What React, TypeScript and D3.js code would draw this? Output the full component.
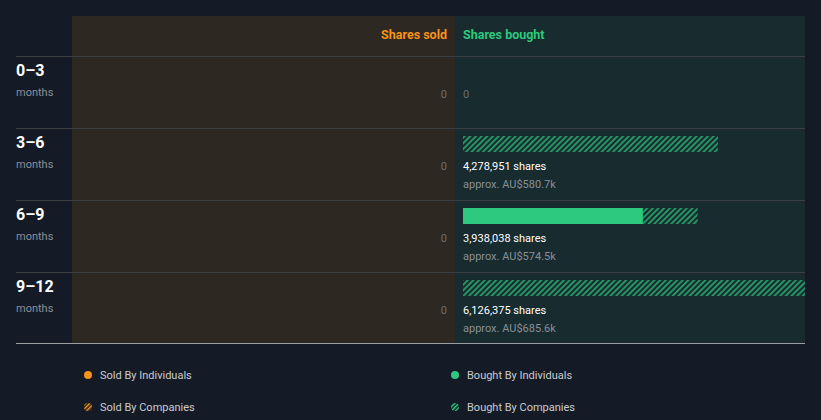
import React from "react";
import * as d3 from "d3";

const periods = ["0–3", "3–6", "6–9", "9–12"];
const soldIndividuals = [0, 0, 0, 0];
const soldCompanies = [0, 0, 0, 0];
const boughtIndividuals = [0, 0, 3020000, 0];
const boughtCompanies = [0, 4278951, 918038, 6126375];
const boughtValues = ["", "AU$580.7k", "AU$574.5k", "AU$685.6k"];
const legendItems = ["Sold By Individuals", "Bought By Individuals", "Sold By Companies", "Bought By Companies"];

const W = 821;
const H = 420;
const BG = "#151b26";
const SOLD_BG = "#2d2822";
const BOUGHT_BG = "#182b2f";
const ORANGE = "#f7931a";
const GREEN = "#2dc97e";
const HATCH_GREEN = "#27a56c";
const FONT = "Roboto, 'Open Sans', sans-serif";

export default function App() {
  const left = 16, right = 805;
  const panelLeft = 72, mid = 455;
  const top = 16, headerH = 40, rowH = 72;
  const bottom = top + headerH + rowH * periods.length - 1;

  const y = d3.scaleBand<number>().domain(d3.range(periods.length)).range([top + headerH, top + headerH + rowH * periods.length]);
  const maxB = d3.max(periods.map((_, i) => boughtIndividuals[i] + boughtCompanies[i])) as number;
  const x = d3.scaleLinear().domain([0, maxB]).range([mid + 8, mid + 8 + 365]);
  const fmt = d3.format(",");

  return (
    <svg width={W} height={H} style={{ position: "absolute", left: 0, top: 0, background: BG }} fontFamily={FONT}>
      <defs>
        <pattern id="hatchG" patternUnits="userSpaceOnUse" width="4" height="4" patternTransform="rotate(45)">
          <rect width="4" height="4" fill={BOUGHT_BG} />
          <rect width="1.7" height="4" fill={HATCH_GREEN} />
        </pattern>
        <pattern id="hatchO" patternUnits="userSpaceOnUse" width="3" height="3" patternTransform="rotate(45)">
          <rect width="3" height="3" fill={BG} />
          <rect width="1.5" height="3" fill={ORANGE} />
        </pattern>
        <pattern id="hatchGL" patternUnits="userSpaceOnUse" width="3" height="3" patternTransform="rotate(45)">
          <rect width="3" height="3" fill={BG} />
          <rect width="1.5" height="3" fill={GREEN} />
        </pattern>
        <clipPath id="boughtClip">
          <rect x={mid} y={top} width={right - mid} height={bottom - top} />
        </clipPath>
      </defs>
      <rect x={0} y={0} width={W} height={H} fill={BG} />
      <rect x={panelLeft} y={top} width={mid - panelLeft} height={bottom - top} fill={SOLD_BG} />
      <rect x={mid} y={top} width={right - mid} height={bottom - top} fill={BOUGHT_BG} />

      <text x={mid - 8} y={top + 23} textAnchor="end" fill={ORANGE} fontSize={12.5} fontWeight={700}>Shares sold</text>
      <text x={mid + 8} y={top + 23} textAnchor="start" fill={GREEN} fontSize={12.5} fontWeight={700}>Shares bought</text>

      {periods.map((p, i) => {
        const y0 = y(i) as number;
        const bi = boughtIndividuals[i];
        const bc = boughtCompanies[i];
        const total = bi + bc;
        const soldTotal = soldIndividuals[i] + soldCompanies[i];
        return (
          <g key={p}>
            <line x1={left} x2={right} y1={y0 + 0.5} y2={y0 + 0.5} stroke="#3b3f44" strokeWidth={1} />
            <text x={left} y={y0 + 20} fill="#ffffff" fontSize={16} fontWeight={700}>{p}</text>
            <text x={left} y={y0 + 40} fill="#8a8f96" fontSize={11}>months</text>
            <text x={mid - 8} y={y0 + 42} textAnchor="end" fill="#6b6e72" fontSize={11}>{soldTotal === 0 ? "0" : fmt(soldTotal)}</text>
            {total === 0 ? (
              <text x={mid + 8} y={y0 + 42} fill="#6b6e72" fontSize={11}>0</text>
            ) : (
              <g>
                <g clipPath="url(#boughtClip)">
                  {bi > 0 && <rect x={x(0)} y={y0 + 8} width={x(bi) - x(0)} height={16} fill={GREEN} />}
                  {bc > 0 && <rect x={x(bi)} y={y0 + 8} width={x(bi + bc) - x(bi)} height={16} fill="url(#hatchG)" />}
                </g>
                <text x={mid + 8} y={y0 + 42} fill="#ffffff" fontSize={11}>{fmt(total)} shares</text>
                <text x={mid + 8} y={y0 + 60} fill="#8a8f96" fontSize={11}>approx. {boughtValues[i]}</text>
              </g>
            )}
          </g>
        );
      })}
      <line x1={left} x2={right} y1={bottom + 0.5} y2={bottom + 0.5} stroke="#9a9ea3" strokeWidth={1} />

      {legendItems.map((t, k) => {
        const col = k % 2;
        const row = Math.floor(k / 2);
        const cx = col === 0 ? 88 : 455;
        const cy = 375 + row * 32;
        const isSold = col === 0;
        const fill = row === 0 ? (isSold ? ORANGE : GREEN) : isSold ? "url(#hatchO)" : "url(#hatchGL)";
        return (
          <g key={t}>
            <circle cx={cx} cy={cy} r={4} fill={fill} />
            <text x={cx + 12} y={cy + 4} fill="#c9ccd0" fontSize={11}>{t}</text>
          </g>
        );
      })}
    </svg>
  );
}
